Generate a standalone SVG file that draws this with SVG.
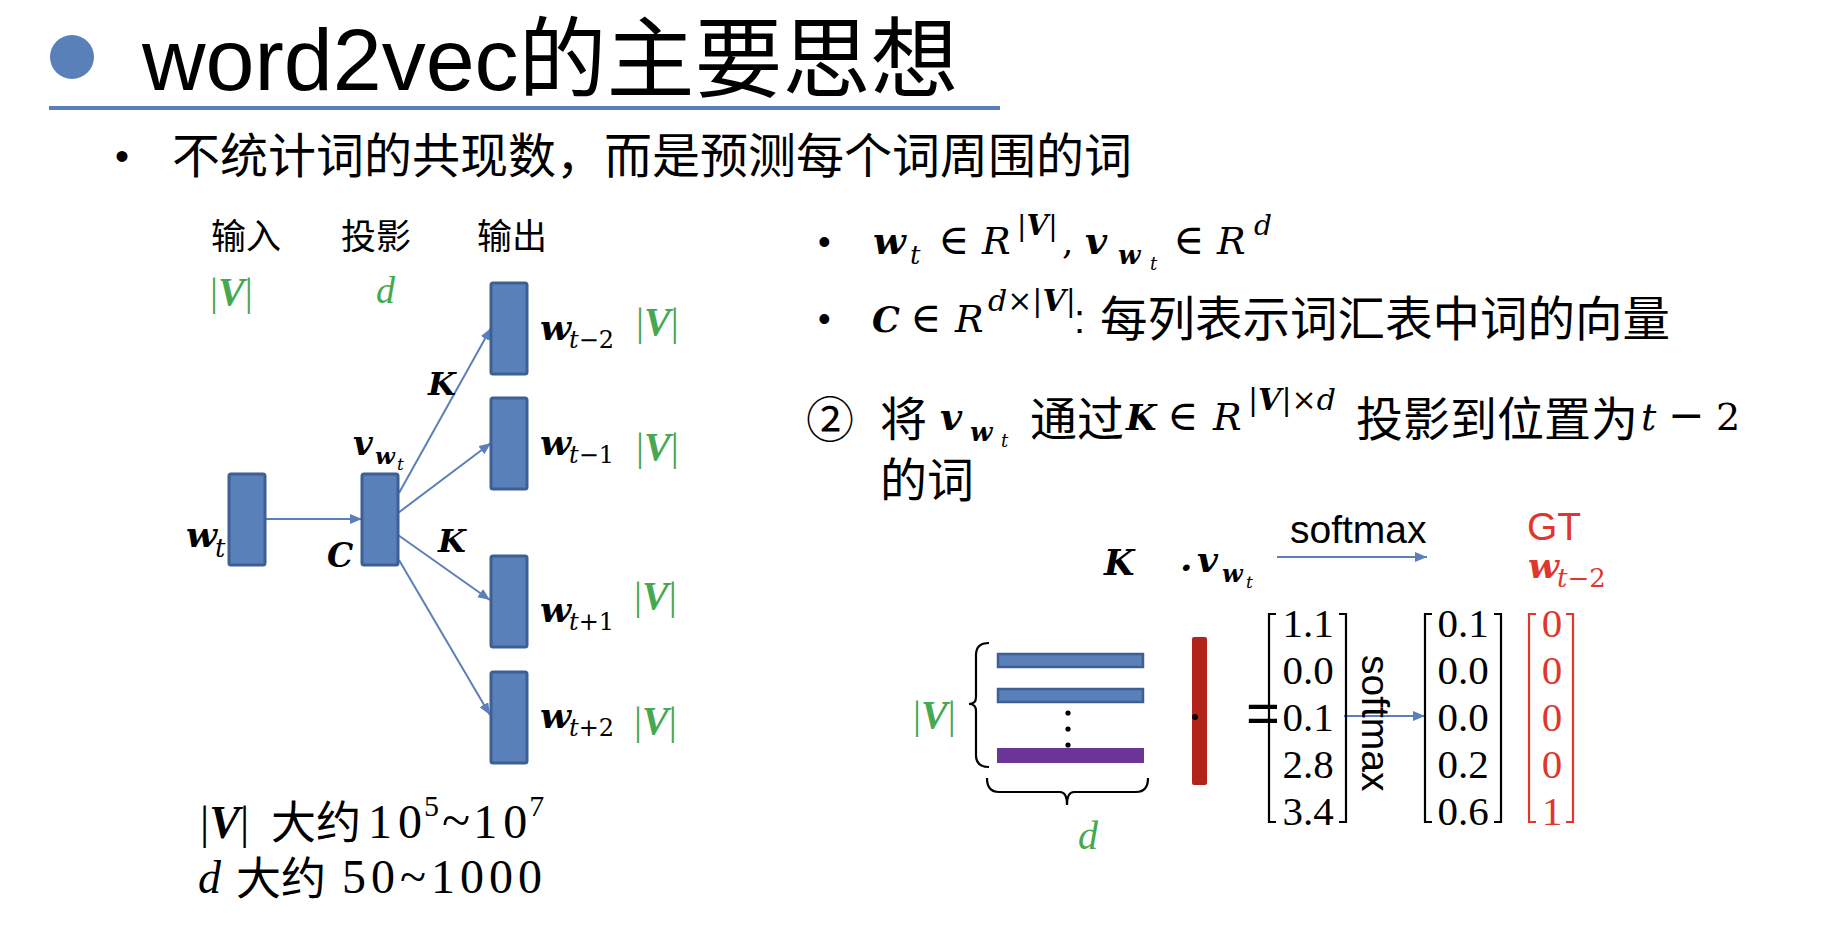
<svg xmlns="http://www.w3.org/2000/svg" width="1824" height="935" viewBox="0 0 1824 935">
<style>
.cjk{font-family:"Liberation Sans","Noto Sans CJK SC",sans-serif;fill:#000}
.ar{font-family:"Liberation Sans","Noto Sans CJK SC",sans-serif}
.m{font-family:"DejaVu Serif",serif;fill:#000}
.ms{font-family:"Liberation Serif",serif;fill:#000}
.bi{font-weight:bold;font-style:italic}
.i{font-style:italic}
.g{fill:#46a84f}
.r{fill:#e0372c}
.node{fill:#5a80b9;stroke:#3d5f93;stroke-width:3}
.conn{stroke:#5a80b9;stroke-width:2;fill:none}
.br{stroke:#000;stroke-width:2.2;fill:none}
.brr{stroke:#e0372c;stroke-width:2.2;fill:none}
</style>
<defs>
<marker id="ah" markerUnits="userSpaceOnUse" markerWidth="14" markerHeight="12" refX="12" refY="5" orient="auto">
<path d="M0,0 L12,5 L0,10 z" fill="#5a80b9"/>
</marker>
</defs>
<rect width="1824" height="935" fill="#fff"/>

<g id="title">
<circle cx="72" cy="57" r="22" fill="#5a80b9"/>
<text class="cjk" x="142" y="90" font-size="88">word2vec的主要思想</text>
<line x1="49" y1="108" x2="1000" y2="108" stroke="#5a80b9" stroke-width="4"/>
<text class="ar" x="115" y="170" font-size="40">•</text>
<text class="cjk" x="172" y="173" font-size="48">不统计词的共现数，而是预测每个词周围的词</text>
</g>

<g id="headers">
<text class="cjk" x="211" y="249" font-size="35">输入</text>
<text class="cjk" x="341" y="249" font-size="35">投影</text>
<text class="cjk" x="477" y="249" font-size="35">输出</text>
<text class="ms g" x="210" y="305" font-size="40">|<tspan class="bi">V</tspan>|</text>
<text class="ms g i" x="376" y="303" font-size="38">d</text>
</g>

<g id="connectors">
<line class="conn" x1="266" y1="519" x2="362" y2="519" marker-end="url(#ah)"/>
<line class="conn" x1="399" y1="493" x2="491" y2="328" marker-end="url(#ah)"/>
<line class="conn" x1="398" y1="513" x2="491" y2="443" marker-end="url(#ah)"/>
<line class="conn" x1="398" y1="535" x2="490" y2="600" marker-end="url(#ah)"/>
<line class="conn" x1="399" y1="560" x2="490" y2="715" marker-end="url(#ah)"/>
<line class="conn" x1="1277" y1="557" x2="1427" y2="557" marker-end="url(#ah)"/>
<line class="conn" x1="1344" y1="716" x2="1425" y2="716" marker-end="url(#ah)"/>
</g>

<g id="node-wt">
<rect class="node" x="229" y="474" width="36" height="91" rx="2"/>
<text class="m bi" x="186" y="547" font-size="36">w</text>
<text class="m i" x="215" y="557" font-size="26">t</text>
</g>
<g id="node-vwt">
<rect class="node" x="362" y="474" width="36" height="91" rx="2"/>
<text class="m bi" x="353" y="455" font-size="34">v</text>
<text class="m bi" x="375" y="464" font-size="23">w</text>
<text class="m i" x="397" y="470" font-size="17">t</text>
<text class="m bi" x="327" y="567" font-size="33">C</text>
</g>
<g id="labels-K">
<text class="m bi" x="428" y="395" font-size="32">K</text>
<text class="m bi" x="438" y="552" font-size="32">K</text>
</g>
<g id="node-wtm2">
<rect class="node" x="491" y="283" width="36" height="91" rx="2"/>
<text class="m bi" x="540" y="340" font-size="36">w</text>
<text class="m" x="569" y="348" font-size="24"><tspan class="i">t</tspan>−2</text>
<text class="ms g" x="636" y="335" font-size="40">|<tspan class="bi">V</tspan>|</text>
</g>
<g id="node-wtm1">
<rect class="node" x="491" y="398" width="36" height="91" rx="2"/>
<text class="m bi" x="540" y="455" font-size="36">w</text>
<text class="m" x="569" y="463" font-size="24"><tspan class="i">t</tspan>−1</text>
<text class="ms g" x="636" y="460" font-size="40">|<tspan class="bi">V</tspan>|</text>
</g>
<g id="node-wtp1">
<rect class="node" x="491" y="556" width="36" height="91" rx="2"/>
<text class="m bi" x="540" y="622" font-size="36">w</text>
<text class="m" x="569" y="630" font-size="24"><tspan class="i">t</tspan>+1</text>
<text class="ms g" x="634" y="609" font-size="40">|<tspan class="bi">V</tspan>|</text>
</g>
<g id="node-wtp2">
<rect class="node" x="491" y="672" width="36" height="91" rx="2"/>
<text class="m bi" x="540" y="728" font-size="36">w</text>
<text class="m" x="569" y="736" font-size="24"><tspan class="i">t</tspan>+2</text>
<text class="ms g" x="634" y="734" font-size="40">|<tspan class="bi">V</tspan>|</text>
</g>

<g id="notes-left">
<text class="ms" x="200" y="838" font-size="46">|<tspan class="bi">V</tspan>|</text>
<text class="cjk" x="271" y="839" font-size="45">大约</text>
<text class="ms" x="368" y="838" font-size="48">1<tspan dx="6">0</tspan><tspan font-size="30" dy="-22" dx="2">5</tspan><tspan font-size="52" dy="22" dx="3">~</tspan><tspan dx="3">1</tspan><tspan dx="6">0</tspan><tspan font-size="30" dy="-22" dx="2">7</tspan></text>
<text class="ms i" x="198" y="893" font-size="46">d</text>
<text class="cjk" x="236" y="895" font-size="45">大约</text>
<text class="ms" x="342" y="893" font-size="48" letter-spacing="5">50~1000</text>
</g>

<g id="bullets-right">
<text class="ar" x="818" y="254" font-size="36">•</text>
<text class="m bi" x="873" y="254" font-size="38">w</text>
<text class="m i" x="910" y="264" font-size="26">t</text>
<text class="m" x="938" y="254" font-size="42">∈</text>
<text class="m i" x="982" y="254" font-size="38">R</text>
<text class="m" x="1017" y="235" font-size="28">|<tspan class="bi">V</tspan>|</text>
<text class="m" x="1062" y="254" font-size="36">,</text>
<text class="m bi" x="1085" y="254" font-size="38">v</text>
<text class="m bi" x="1118" y="264" font-size="26">w</text>
<text class="m i" x="1150" y="270" font-size="18">t</text>
<text class="m" x="1173" y="254" font-size="42">∈</text>
<text class="m i" x="1217" y="254" font-size="38">R</text>
<text class="m i" x="1254" y="235" font-size="28">d</text>

<text class="ar" x="818" y="331" font-size="36">•</text>
<text class="m bi" x="872" y="332" font-size="35">C</text>
<text class="m" x="910" y="332" font-size="42">∈</text>
<text class="m i" x="955" y="332" font-size="38">R</text>
<text class="m" x="988" y="311" font-size="30"><tspan class="i">d</tspan>×|<tspan class="bi">V</tspan>|</text>
<text class="cjk" x="1074" y="333" font-size="40">:</text>
<text class="cjk" x="1100" y="336" font-size="47.5">每列表示词汇表中词的向量</text>
</g>

<g id="step2">
<text class="cjk" x="806" y="437" font-size="48">②</text>
<text class="cjk" x="880" y="436" font-size="47">将</text>
<text class="m bi" x="940" y="430" font-size="38">v</text>
<text class="m bi" x="970" y="441" font-size="26">w</text>
<text class="m i" x="1001" y="447" font-size="18">t</text>
<text class="cjk" x="1030" y="436" font-size="47">通过</text>
<text class="m bi" x="1126" y="430" font-size="35">K</text>
<text class="m" x="1167" y="430" font-size="42">∈</text>
<text class="m i" x="1213" y="430" font-size="38">R</text>
<text class="m" x="1248" y="410" font-size="30">|<tspan class="bi">V</tspan>|×<tspan class="i">d</tspan></text>
<text class="cjk" x="1356" y="436" font-size="47">投影到位置为</text>
<text class="m i" x="1641" y="430" font-size="38">t</text>
<text class="m" x="1668" y="430" font-size="44">−</text>
<text class="m" x="1716" y="430" font-size="38">2</text>
<text class="cjk" x="880" y="497" font-size="47">的词</text>
</g>

<g id="matrix-K">
<rect x="998" y="654" width="145" height="13" fill="#5a80b9" stroke="#3d5f93" stroke-width="2.5"/>
<rect x="998" y="689" width="145" height="13" fill="#5a80b9" stroke="#3d5f93" stroke-width="2.5"/>
<rect x="997" y="748" width="147" height="15" fill="#6a3596"/>
<circle cx="1068" cy="713" r="2.6" fill="#000"/>
<circle cx="1068" cy="729" r="2.6" fill="#000"/>
<circle cx="1068" cy="745" r="2.6" fill="#000"/>
<path class="br" d="M989,643 Q976,643 976,655 L976,697 Q976,704 969,704 Q976,704 976,711 L976,755 Q976,767 989,767"/>
<path class="br" d="M987,778 Q987,792 999,792 L1060,792 Q1067,792 1067,805 Q1067,792 1074,792 L1136,792 Q1148,792 1148,778"/>
<text class="ms g" x="913" y="728" font-size="40">|<tspan class="bi">V</tspan>|</text>
<text class="ms g i" x="1078" y="849" font-size="40">d</text>
<text class="m bi" x="1104" y="575" font-size="35">K</text>
</g>

<g id="vector-v">
<rect x="1192" y="637" width="15" height="148" rx="2" fill="#b2241a"/>
<circle cx="1195" cy="717" r="3" fill="#000"/>
<text class="m bi" x="1180" y="580" font-size="36">·</text>
<text class="m bi" x="1197" y="572" font-size="36">v</text>
<text class="m bi" x="1222" y="582" font-size="24">w</text>
<text class="m i" x="1246" y="588" font-size="17">t</text>
</g>

<g id="softmax-labels">
<text class="ar" x="1290" y="543" font-size="39" fill="#000">softmax</text>
<text class="ar" font-size="39" fill="#000" transform="rotate(90 1389 655)"><tspan x="1389" y="682">softmax</tspan></text>
<text class="ar" x="1246" y="733" font-size="58" fill="#000">=</text>
</g>

<g id="matrix-scores">
<path class="br" d="M1276,614 L1269,614 L1269,822 L1276,822"/>
<path class="br" d="M1339,614 L1346,614 L1346,822 L1339,822"/>
<g class="ms" font-size="41" text-anchor="middle">
<text x="1308" y="637">1.1</text>
<text x="1308" y="684">0.0</text>
<text x="1308" y="731">0.1</text>
<text x="1308" y="778">2.8</text>
<text x="1308" y="825">3.4</text>
</g>
</g>

<g id="matrix-probs">
<path class="br" d="M1432,614 L1425,614 L1425,822 L1432,822"/>
<path class="br" d="M1494,614 L1501,614 L1501,822 L1494,822"/>
<g class="ms" font-size="41" text-anchor="middle">
<text x="1463" y="637">0.1</text>
<text x="1463" y="684">0.0</text>
<text x="1463" y="731">0.0</text>
<text x="1463" y="778">0.2</text>
<text x="1463" y="825">0.6</text>
</g>
</g>

<g id="matrix-gt">
<text class="ar r" x="1527" y="540" font-size="39">GT</text>
<text class="m bi r" x="1528" y="578" font-size="36">w</text>
<text class="m r" x="1557" y="587" font-size="26"><tspan class="i">t</tspan>−2</text>
<path class="brr" d="M1536,614 L1529,614 L1529,822 L1536,822"/>
<path class="brr" d="M1566,614 L1573,614 L1573,822 L1566,822"/>
<g class="ms r" font-size="41" text-anchor="middle">
<text x="1552" y="637">0</text>
<text x="1552" y="684">0</text>
<text x="1552" y="731">0</text>
<text x="1552" y="778">0</text>
<text x="1552" y="825">1</text>
</g>
</g>
</svg>
